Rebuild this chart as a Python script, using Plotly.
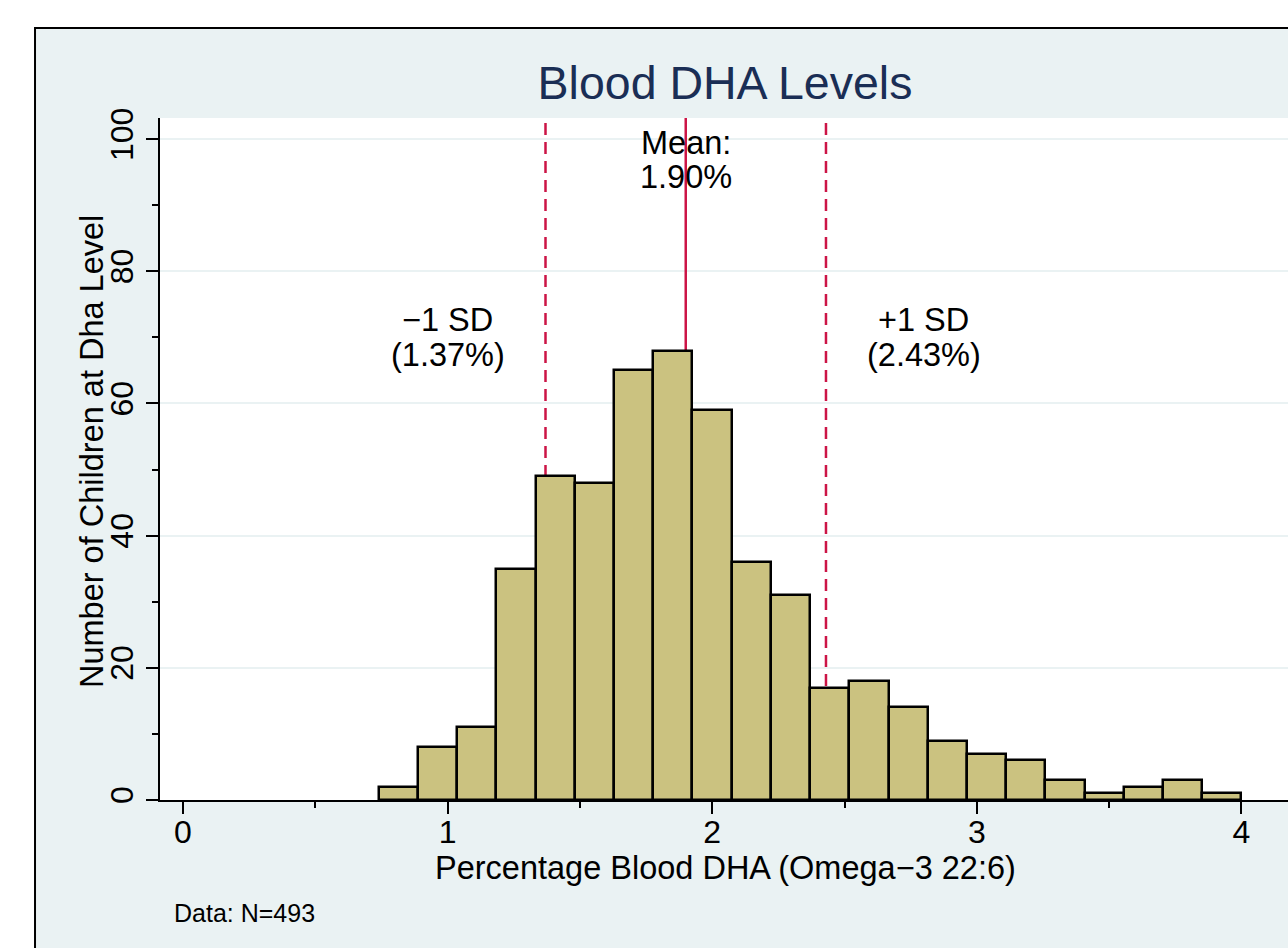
import plotly.graph_objects as go

# ---- data ----
bin_start = 0.74
bin_width = (4.0 - 0.74) / 22
counts = [2, 8, 11, 35, 49, 48, 65, 68, 59, 36, 31, 17, 18, 14, 9, 7, 6, 3, 1, 2, 3, 1]
mean_val = 1.90
sd_low = 1.37
sd_high = 2.43
x_ticks = [0, 1, 2, 3, 4]
y_ticks = [0, 20, 40, 60, 80, 100]

centers = [bin_start + bin_width * (i + 0.5) for i in range(len(counts))]

FONT = "Liberation Sans, Arial, Helvetica, sans-serif"
BG = "#EAF2F3"
RED = "#CC1446"

fig = go.Figure()
fig.add_trace(go.Bar(
    x=centers, y=counts, width=[bin_width] * len(counts),
    marker=dict(color="#CBC280", line=dict(color="black", width=2.5)),
    hoverinfo="x+y", showlegend=False,
))

shapes = [
    # outer frame (extends past the figure edges)
    dict(type="rect", xref="paper", yref="paper", x0=-0.1108, x1=1.2, y0=-0.4, y1=1.132,
         fillcolor=BG, line=dict(color="black", width=2), layer="below"),
    # white plot region
    dict(type="rect", xref="paper", yref="paper", x0=0, x1=1.05, y0=0, y1=1,
         fillcolor="white", line=dict(width=0), layer="below"),
]
for xv, dash in [(sd_low, "12px,7px"), (mean_val, "solid"), (sd_high, "12px,7px")]:
    shapes.append(dict(type="line", xref="x", yref="y", x0=xv, x1=xv, y0=0, y1=103.2,
                       line=dict(color=RED, width=2.5, dash=dash), layer="between"))

ann_font = dict(family=FONT, size=32.5, color="black")
annotations = [
    dict(x=mean_val, y=99.4, text="Mean:"),
    dict(x=mean_val, y=94.2, text="1.90%"),
    dict(x=1.0, y=72.6, text="−1 SD"),
    dict(x=1.0, y=67.3, text="(1.37%)"),
    dict(x=2.8, y=72.6, text="+1 SD"),
    dict(x=2.8, y=67.3, text="(2.43%)"),
]
for a in annotations:
    a.update(xref="x", yref="y", showarrow=False, font=ann_font,
             xanchor="center", yanchor="middle")
# y-axis title
annotations.append(dict(xref="paper", yref="paper", x=(92 - 160) / 1128, y=(800 - 452) / 682,
                        text="Number of Children at Dha Level", textangle=-90,
                        showarrow=False, xanchor="center", yanchor="middle",
                        font=dict(family=FONT, size=32.5, color="black")))
# x-axis title
annotations.append(dict(xref="paper", yref="paper", x=(725 - 160) / 1128, y=(800 - 868) / 682,
                        text="Percentage Blood DHA (Omega−3 22:6)",
                        showarrow=False, xanchor="center", yanchor="middle",
                        font=dict(family=FONT, size=32.5, color="black")))
annotations.append(dict(xref="paper", yref="paper", x=0.0106, y=-0.1657, text="Data: N=493",
                        showarrow=False, xanchor="left", yanchor="middle",
                        font=dict(family=FONT, size=25, color="black")))

fig.update_layout(
    width=1288, height=948,
    margin=dict(l=160, r=0, t=118, b=148, pad=0),
    paper_bgcolor="white", plot_bgcolor="rgba(0,0,0,0)",
    font=dict(family=FONT, size=32, color="black"),
    title=dict(text="Blood DHA Levels", x=725 / 1288, y=1 - 83 / 948,
               xanchor="center", yanchor="middle",
               font=dict(family=FONT, size=46.5, color="rgb(26,46,85)")),
    bargap=0,
    shapes=shapes,
    annotations=annotations,
    xaxis=dict(
        range=[-23 / 264.6, 1105 / 264.6],
        tickvals=x_ticks, ticks="outside", ticklen=12, tickwidth=2, tickcolor="black",
        ticklabelstandoff=-9,
        showline=True, linecolor="black", linewidth=2,
        showgrid=False, zeroline=False,
        minor=dict(dtick=0.5, tick0=0, ticks="outside", ticklen=6, tickwidth=2,
                   tickcolor="black", showgrid=False),
        tickfont=dict(family=FONT, size=32),
    ),
    yaxis=dict(
        range=[0, 103.2],
        tickvals=y_ticks, ticks="outside", ticklen=12, tickwidth=2, tickcolor="black",
        tickangle=-90,
        showline=True, linecolor="black", linewidth=2,
        showgrid=True, gridcolor=BG, gridwidth=2, zeroline=False,
        minor=dict(dtick=10, tick0=0, ticks="outside", ticklen=6, tickwidth=2,
                   tickcolor="black", showgrid=False),
        tickfont=dict(family=FONT, size=32),
    ),
)

fig.write_html("out.html", config={"displayModeBar": False},
               post_script="document.body.style.margin='0';")
